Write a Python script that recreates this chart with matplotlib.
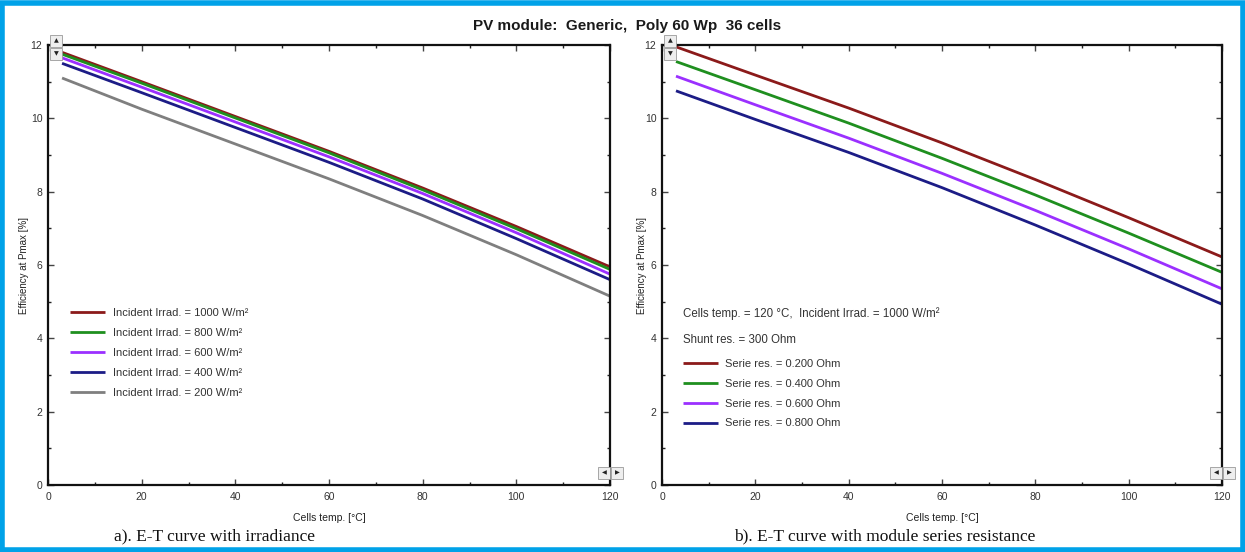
import matplotlib
matplotlib.use("Agg")
import matplotlib.pyplot as plt
from matplotlib.patches import Rectangle
from matplotlib.ticker import MultipleLocator

# ---- data ----
temps = [3, 20, 40, 60, 80, 100, 120]

irr_labels = ["Incident Irrad. = 1000 W/m²", "Incident Irrad. = 800 W/m²",
              "Incident Irrad. = 600 W/m²", "Incident Irrad. = 400 W/m²",
              "Incident Irrad. = 200 W/m²"]
eff_1000 = [11.80, 11.00, 10.05, 9.10, 8.10, 7.05, 5.95]
eff_800 = [11.75, 10.96, 10.01, 9.06, 8.05, 6.99, 5.88]
eff_600 = [11.65, 10.85, 9.90, 8.95, 7.95, 6.88, 5.75]
eff_400 = [11.50, 10.70, 9.75, 8.80, 7.80, 6.72, 5.60]
eff_200 = [11.10, 10.25, 9.30, 8.35, 7.35, 6.28, 5.15]

rs_labels = ["Serie res. = 0.200 Ohm", "Serie res. = 0.400 Ohm",
             "Serie res. = 0.600 Ohm", "Serie res. = 0.800 Ohm"]
eff_rs02 = [11.95, 11.18, 10.28, 9.33, 8.33, 7.29, 6.22]
eff_rs04 = [11.55, 10.78, 9.87, 8.91, 7.91, 6.87, 5.80]
eff_rs06 = [11.15, 10.37, 9.46, 8.50, 7.49, 6.44, 5.35]
eff_rs08 = [10.75, 9.97, 9.07, 8.11, 7.09, 6.03, 4.93]

xticks = [0, 20, 40, 60, 80, 100, 120]
yticks = [0, 2, 4, 6, 8, 10, 12]

c_red = "#8b1a1a"
c_green = "#1f8f1f"
c_purple = "#9b30ff"
c_blue = "#1c1c86"
c_gray = "#7f7f7f"

plt.rcParams['font.family'] = ['Liberation Sans', 'DejaVu Sans']

W, H = 1245, 552
fig = plt.figure(figsize=(W / 100, H / 100), dpi=100)
fig.patch.set_facecolor("white")

# blue frame
fig.patches.append(Rectangle((2 / W, 2 / H), 1 - 4 / W, 1 - 5 / H, transform=fig.transFigure,
                             fill=False, edgecolor="#00a2e8", linewidth=4.0))

fig.text(627 / W, 1 - 26 / H, "PV module:  Generic,  Poly 60 Wp  36 cells",
         ha="center", va="center", fontsize=11, fontweight="bold", color="#1a1a1a")


def make_axes(x0, x1, ylab_x):
    ax = fig.add_axes([x0 / W, 1 - 485 / H, (x1 - x0) / W, (485 - 45) / H])
    ax.set_xlim(0, 120)
    ax.set_ylim(0, 12)
    ax.set_xticks(xticks)
    ax.set_yticks(yticks)
    ax.xaxis.set_minor_locator(MultipleLocator(10))
    ax.yaxis.set_minor_locator(MultipleLocator(1))
    ax.tick_params(which="both", direction="in", top=True, right=True,
                   labelsize=7.5, labelcolor="#333333")
    ax.tick_params(axis="x", which="both", pad=5)
    ax.tick_params(axis="y", which="both", pad=4)
    ax.tick_params(which="major", length=4, width=1, color="#444444")
    ax.tick_params(which="minor", length=2.5, width=1, color="#222222")
    for s in ax.spines.values():
        s.set_linewidth(1.6)
        s.set_color("#111111")
    ax.set_xlabel("Cells temp. [°C]", fontsize=7.5, labelpad=8, color="#222222")
    ax.set_ylabel("Efficiency at Pmax [%]", fontsize=7, color="#222222")
    ax.yaxis.set_label_coords(ylab_x, 0.5)
    return ax


axL = make_axes(48, 610, -0.034)
axR = make_axes(662, 1222, -0.026)

lw = 2.0
for vals, lab, col in zip([eff_1000, eff_800, eff_600, eff_400, eff_200], irr_labels,
                          [c_red, c_green, c_purple, c_blue, c_gray]):
    axL.plot(temps, vals, color=col, lw=lw, label=lab, solid_capstyle="butt", clip_on=False)

for vals, lab, col in zip([eff_rs02, eff_rs04, eff_rs06, eff_rs08], rs_labels,
                          [c_red, c_green, c_purple, c_blue]):
    axR.plot(temps, vals, color=col, lw=lw, label=lab, solid_capstyle="butt", clip_on=False)

legL = axL.legend(loc="upper left", bbox_to_anchor=(0.039, 0.402), frameon=False,
                  fontsize=8, handlelength=3.15, handletextpad=0.7, labelspacing=0.9,
                  borderaxespad=0, borderpad=0)
for t in legL.get_texts():
    t.set_color("#333333")

axR.text(0.037, 0.389, "Cells temp. = 120 °C,  Incident Irrad. = 1000 W/m²",
         transform=axR.transAxes, fontsize=8.3, color="#333333", va="center")
axR.text(0.037, 0.330, "Shunt res. = 300 Ohm", transform=axR.transAxes,
         fontsize=8.3, color="#333333", va="center")
legR = axR.legend(loc="upper left", bbox_to_anchor=(0.037, 0.286), frameon=False,
                  fontsize=8, handlelength=3.15, handletextpad=0.7, labelspacing=0.88,
                  borderaxespad=0, borderpad=0)
for t in legR.get_texts():
    t.set_color("#333333")


# small scroll buttons (decorative)
def button(px, py, ch):
    fig.patches.append(Rectangle(((px - 6) / W, 1 - (py + 6) / H), 12 / W, 12 / H,
                                 transform=fig.transFigure, facecolor="#eeeeee",
                                 edgecolor="#999999", linewidth=0.6))
    fig.text(px / W, 1 - py / H, ch, ha="center", va="center", fontsize=4.5,
             family="DejaVu Sans", color="#222222")


for x0, x1 in [(48, 610), (662, 1222)]:
    button(x0 + 8, 41, "▲")
    button(x0 + 8, 54, "▼")
    button(x1 - 6, 473, "◀")
    button(x1 + 7, 473, "▶")

fig.text(215 / W, 1 - 536 / H, "a). E-T curve with irradiance", ha="center", va="center",
         fontsize=12.5, family="Liberation Serif", color="#111111")
fig.text(885 / W, 1 - 536 / H, "b). E-T curve with module series resistance", ha="center",
         va="center", fontsize=12.5, family="Liberation Serif", color="#111111")

fig.savefig("out.png", dpi=100, facecolor="white")
